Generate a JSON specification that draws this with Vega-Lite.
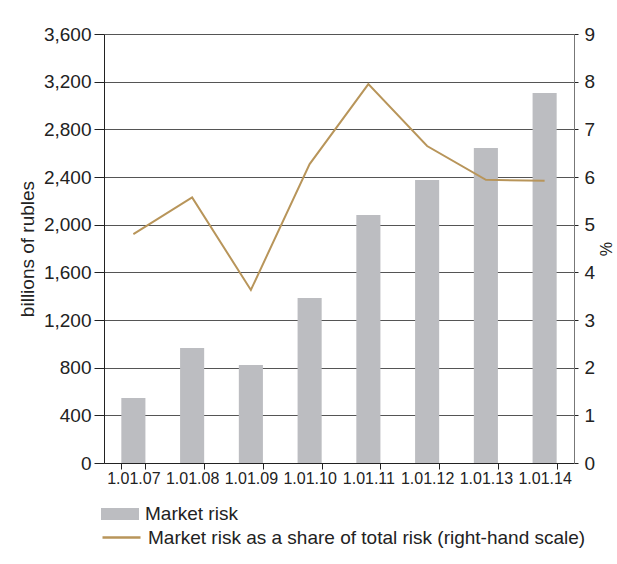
{
  "$schema": "https://vega.github.io/schema/vega-lite/v6.json",
  "width": 470,
  "height": 429,
  "padding": {"left": 18, "top": 25, "right": 0, "bottom": 5},
  "background": "white",
  "config": {
    "font": "Liberation Sans",
    "view": {"stroke": null},
    "axis": {"labelColor": "#222", "titleColor": "#222", "domainColor": "#222", "tickColor": "#222", "titleFontWeight": "normal"},
    "legend": {"labelColor": "#222"}
  },
  "data": {
    "values": [
      {"date": "1.01.07", "market": 545, "share": 4.80},
      {"date": "1.01.08", "market": 965, "share": 5.57},
      {"date": "1.01.09", "market": 822, "share": 3.63},
      {"date": "1.01.10", "market": 1385, "share": 6.27},
      {"date": "1.01.11", "market": 2081, "share": 7.95},
      {"date": "1.01.12", "market": 2375, "share": 6.65},
      {"date": "1.01.13", "market": 2643, "share": 5.94},
      {"date": "1.01.14", "market": 3105, "share": 5.92}
    ]
  },
  "encoding": {
    "x": {
      "field": "date",
      "type": "ordinal",
      "sort": null,
      "scale": {"paddingInner": 0.59, "paddingOuter": 0.295},
      "axis": {
        "title": null,
        "labelAngle": 0,
        "labelFontSize": 16,
        "labelPadding": 1,
        "tickBand": "extent",
        "tickSize": 6,
        "domainColor": "#222"
      }
    }
  },
  "layer": [
    {
      "mark": {"type": "bar", "color": "#bcbdc1"},
      "encoding": {
        "y": {
          "field": "market",
          "type": "quantitative",
          "scale": {"domain": [0, 3600], "nice": false},
          "axis": {
            "title": "billions of rubles",
            "titleFontSize": 19,
            "titlePadding": 6,
            "values": [0, 400, 800, 1200, 1600, 2000, 2400, 2800, 3200, 3600],
            "format": ",d",
            "labelFontSize": 19,
            "labelPadding": 3,
            "tickSize": 10,
            "grid": true,
            "gridColor": "#555",
            "gridWidth": 1
          }
        },
        "fill": {
          "datum": "Market risk",
          "scale": {"range": ["#bcbdc1"]},
          "legend": {
            "title": null,
            "orient": "none",
            "legendX": -3,
            "legendY": 461,
            "symbolType": "M-1,-0.316H1V0.316H-1Z",
            "symbolSize": 1444,
            "symbolStrokeWidth": 0,
            "labelFontSize": 19,
            "labelOffset": 6,
            "labelLimit": 0
          }
        }
      }
    },
    {
      "mark": {"type": "line", "strokeWidth": 2},
      "encoding": {
        "y": {
          "field": "share",
          "type": "quantitative",
          "scale": {"domain": [0, 9], "nice": false},
          "axis": {
            "orient": "right",
            "title": "%",
            "titleFontSize": 16,
            "titlePadding": 2,
            "values": [0, 1, 2, 3, 4, 5, 6, 7, 8, 9],
            "labelFontSize": 19,
            "labelPadding": 6,
            "tickSize": 4,
            "domainColor": "#777",
            "grid": false
          }
        },
        "stroke": {
          "datum": "Market risk as a share of total risk (right-hand scale)",
          "scale": {"range": ["#b8955a"]},
          "legend": {
            "title": null,
            "orient": "none",
            "legendX": -3,
            "legendY": 483,
            "symbolType": "stroke",
            "symbolSize": 1444,
            "symbolStrokeWidth": 2.5,
            "labelFontSize": 19,
            "labelOffset": 6,
            "labelLimit": 0
          }
        }
      }
    }
  ],
  "resolve": {"scale": {"y": "independent"}}
}
